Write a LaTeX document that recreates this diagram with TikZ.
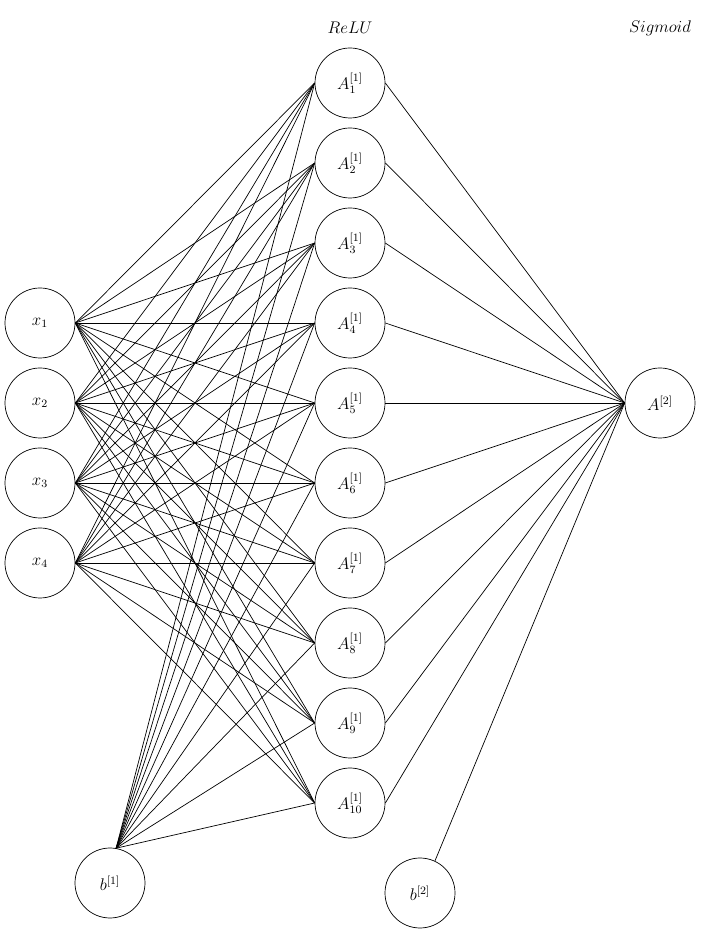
\documentclass[tikz,border=0pt]{standalone}
\usepackage{tikz}

\begin{document}
\begin{tikzpicture}[font=\large,line width=0.5pt]
  \tikzstyle{Neuron}=[draw,circle,minimum size=1.75cm,inner sep=0pt]
  \tikzstyle{EdgeStyle}=[]
  \useasboundingbox (0,-0.275) rectangle (17.525,23.075);
  % input layer
  \foreach \i/\y in {1/15,2/13,3/11,4/9}
    \node[Neuron] (X\i) at (1,\y) {$x_{\i}$};
  % hidden layer
  \foreach \j in {1,...,10}
    \node[Neuron] (H\j) at (8.75,23-2*\j) {$A^{[1]}_{\j}$};
  % output layer
  \node[Neuron] (O) at (16.5,13) {$A^{[2]}$};
  % biases
  \node[Neuron] (B1) at (2.75,1) {$b^{[1]}$};
  \node[Neuron] (B2) at (10.5,0.75) {$b^{[2]}$};
  % activations
  \node (relu) at (8.75,22.375) {$ReLU$};
  \node (sigm) at (16.5,22.375) {$Sigmoid$};
  \foreach \i in {1,...,4}
    \foreach \j in {1,...,10}
      \draw[EdgeStyle] (X\i.east) -- (H\j.west);
  \foreach \j in {1,...,10}{
    \draw[EdgeStyle] (B1.80) -- (H\j.west);
    \draw[EdgeStyle] (H\j.east) -- (O.west);
  }
  \draw[EdgeStyle] (B2.65) -- (O.west);
\end{tikzpicture}
\end{document}
